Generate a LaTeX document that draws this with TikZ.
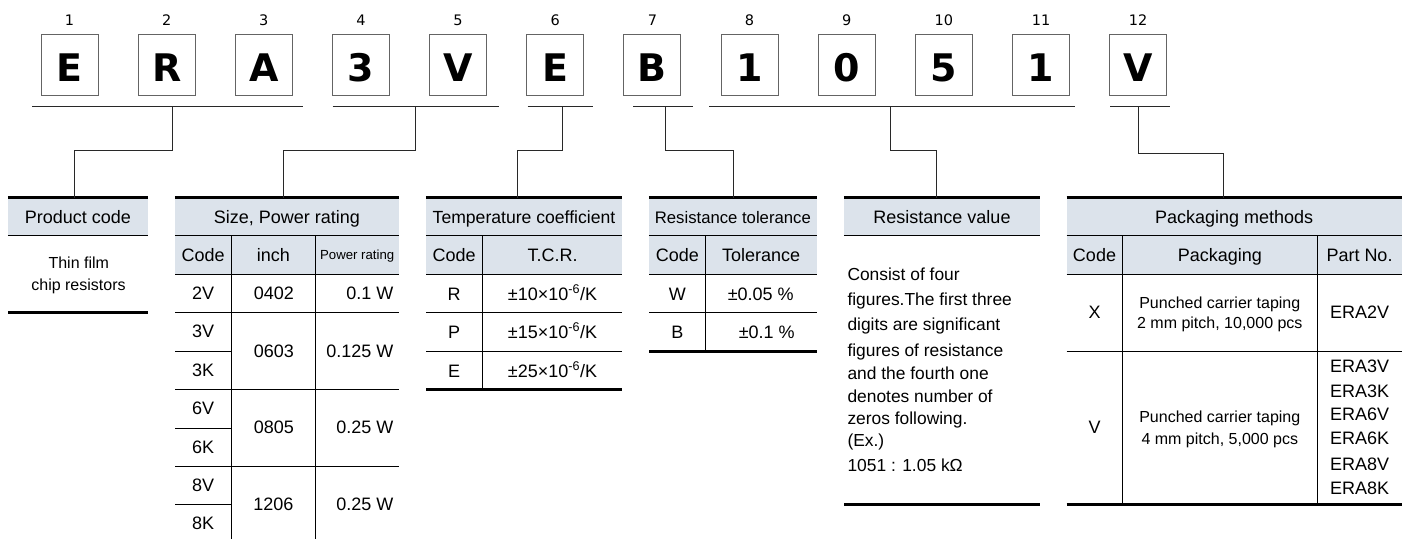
\documentclass[tikz,border=0pt]{standalone}
\usepackage{fontspec}
\setmainfont{Liberation Sans}
\newfontfamily\dvfont{DejaVu Sans}
\definecolor{hdr}{RGB}{220,227,235}
\definecolor{boxgray}{RGB}{100,100,100}
\definecolor{connc}{RGB}{40,40,40}
\tikzset{
  digitbox/.style={draw=boxgray, line width=1pt, minimum width=57pt, minimum height=60.7pt,
    inner sep=0pt, text height=32.7pt, text depth=0pt, font=\dvfont\bfseries\fontsize{38}{38}\selectfont},
  poslabel/.style={inner sep=0pt, font=\dvfont\fontsize{14.5}{15}\selectfont},
  grpline/.style={draw=connc, line width=1pt},
  connline/.style={draw=connc, line width=1pt},
  thickrule/.style={line width=3pt},
  thinrule/.style={line width=1pt},
  cell/.style={inner sep=0pt, text height=13pt, text depth=0pt, font=\fontsize{18}{21}\selectfont},
  smallcell/.style={inner sep=0pt, text height=11.5pt, text depth=0pt, font=\fontsize{16}{19}\selectfont},
  tinycell/.style={inner sep=0pt, text height=9.5pt, text depth=0pt, font=\fontsize{13.2}{15}\selectfont},
  textline/.style={inner sep=0pt, anchor=west, text height=12.5pt, text depth=0pt, font=\fontsize{17.4}{20}\selectfont},
  hdrcell/.style={cell, fill=hdr, minimum height=37.3pt},
}
\begin{document}
\begin{tikzpicture}[x=1pt,y=-1pt]
\useasboundingbox (0,0) rectangle (1408,539);

% ---------- code boxes ----------
\foreach \i/\c in {1/E,2/R,3/A,4/3,5/V,6/E,7/B,8/1,9/0,10/5,11/1,12/V}{
  \node[digitbox] (b\i) at ({69.5+97.15*(\i-1)},64.65) {\c};
  \node[poslabel] (n\i) at ({69.5+97.15*(\i-1)},20.6) {\i};
}

% ---------- table headers (named nodes) ----------
\node[hdrcell, minimum width=139.7pt] (h1) at (77.85,216.65) {Product code};
\node[hdrcell, minimum width=224pt] (h2) at (287,216.65) {Size, Power rating};
\node[hdrcell, minimum width=196pt, font=\fontsize{17.6}{20}\selectfont] (h3) at (524,216.65) {Temperature coefficient};
\node[hdrcell, minimum width=167.7pt, font=\fontsize{16.7}{20}\selectfont] (h4) at (732.85,216.65) {Resistance tolerance};
\node[hdrcell, minimum width=196pt] (h5) at (942,216.65) {Resistance value};
\node[hdrcell, minimum width=335pt] (h6) at (1234.2,216.65) {Packaging methods};

\foreach \k in {1,...,6}{
  \draw[thickrule] (h\k.north west) -- (h\k.north east);
  \draw[thinrule] (h\k.south west) -- (h\k.south east);
}

% ---------- group lines and connectors ----------
\coordinate (g1a) at (32.3,106);   \coordinate (g1b) at (303.3,106);
\coordinate (g2a) at (332.7,106);  \coordinate (g2b) at (499.3,106);
\coordinate (g3a) at (527.7,106);  \coordinate (g3b) at (593,106);
\coordinate (g4a) at (633.3,106);  \coordinate (g4b) at (692.7,106);
\coordinate (g5a) at (709.3,106);  \coordinate (g5b) at (1074.7,106);
\coordinate (g6a) at (1110.3,106); \coordinate (g6b) at (1170,106);
\foreach \k in {1,...,6}{ \draw[grpline] (g\k a) -- (g\k b); }

\coordinate (s1) at (172.3,106);  \coordinate (e1) at (74.7,150.7);
\coordinate (s2) at (415,106);    \coordinate (e2) at (283,150.7);
\coordinate (s3) at (562.7,106);  \coordinate (e3) at (517.3,150.7);
\coordinate (s4) at (665.7,106);  \coordinate (e4) at (733.7,150.7);
\coordinate (s5) at (890.3,106);  \coordinate (e5) at (936,150.7);
\coordinate (s6) at (1138.7,106); \coordinate (e6) at (1223.7,153.3);
\foreach \k in {1,...,6}{ \draw[connline] (s\k) |- (e\k) -- (e\k |- h\k.north); }

% ---------- table 1 : product code ----------
\node[smallcell] (t1a) at (78.8,262.7) {Thin film};
\node[smallcell] (t1b) at (78.5,284.3) {chip resistors};
\draw[thickrule] (8,312.3) -- (147.7,312.3);

% ---------- table 2 : size, power rating ----------
\fill[hdr] (175,235.8) rectangle (399,274);
\draw[thinrule] (175,274) -- (399,274);
\foreach \yy in {312.3,389.7,466.3}{ \draw[thinrule] (175,\yy) -- (399,\yy); }
\foreach \yy in {351.7,428.3,504.3}{ \draw[thinrule] (175,\yy) -- (231.3,\yy); }
\draw[thinrule] (231.3,235.3) -- (231.3,539);
\draw[thinrule] (315.3,235.3) -- (315.3,539);
\node[cell] (c2a) at (203.2,254.5) {Code};
\node[cell] (c2b) at (273.3,254.5) {inch};
\node[tinycell] (c2c) at (357.2,254.5) {Power rating};
\node[cell] (r2a) at (203.2,292.7) {2V};
\node[cell] (r2b) at (203.2,331) {3V};
\node[cell] (r2c) at (203.2,370) {3K};
\node[cell] (r2d) at (203.2,408.3) {6V};
\node[cell] (r2e) at (203.2,446.7) {6K};
\node[cell] (r2f) at (203.2,485) {8V};
\node[cell] (r2g) at (203.2,523.3) {8K};
\node[cell] (i2a) at (273.8,292.7) {0402};
\node[cell] (i2b) at (273.8,350.5) {0603};
\node[cell] (i2c) at (273.8,427) {0805};
\node[cell] (i2d) at (273.3,503.5) {1206};
\node[cell, anchor=east] (w2a) at (393.5,292.7) {0.1 W};
\node[cell, anchor=east] (w2b) at (393.5,350.5) {0.125 W};
\node[cell, anchor=east] (w2c) at (393.5,427) {0.25 W};
\node[cell, anchor=east] (w2d) at (393.5,503.5) {0.25 W};

% ---------- table 3 : temperature coefficient ----------
\fill[hdr] (426,235.8) rectangle (622,274);
\draw[thinrule] (426,274) -- (622,274);
\draw[thinrule] (426,312.3) -- (622,312.3);
\draw[thinrule] (426,351.7) -- (622,351.7);
\draw[thinrule] (482.3,235.3) -- (482.3,389.7);
\draw[thickrule] (426,389.7) -- (622,389.7);
\node[cell] (c3a) at (454.2,254.5) {Code};
\node[cell] (c3b) at (552.5,254.5) {T.C.R.};
\node[cell] (r3a) at (454.2,293.5) {R};
\node[cell] (r3b) at (454.2,331.7) {P};
\node[cell] (r3c) at (454.2,370.5) {E};
\node[cell] (v3a) at (552.5,293.5) {±10×10\textsuperscript{-6}/K};
\node[cell] (v3b) at (552.5,331.7) {±15×10\textsuperscript{-6}/K};
\node[cell] (v3c) at (552.5,370.5) {±25×10\textsuperscript{-6}/K};

% ---------- table 4 : resistance tolerance ----------
\fill[hdr] (649,235.8) rectangle (816.7,274);
\draw[thinrule] (649,274) -- (816.7,274);
\draw[thinrule] (649,312.3) -- (816.7,312.3);
\draw[thinrule] (705.7,235.3) -- (705.7,351.7);
\draw[thickrule] (649,351.7) -- (816.7,351.7);
\node[cell] (c4a) at (677.4,254.5) {Code};
\node[cell] (c4b) at (761.2,254.5) {Tolerance};
\node[cell] (r4a) at (677.4,293.5) {W};
\node[cell] (r4b) at (677.4,331.7) {B};
\node[cell] (v4a) at (760.7,293.5) {±0.05 \%};
\node[cell] (v4b) at (766.7,331.7) {±0.1 \%};

% ---------- table 5 : resistance value ----------
\node[textline] (l5a) at (847.3,274.3) {Consist of four};
\node[textline] (l5b) at (847.3,299.3) {figures.The first three};
\node[textline] (l5c) at (847.3,324.3) {digits are significant};
\node[textline] (l5d) at (847.3,350) {figures of resistance};
\node[textline] (l5e) at (847.3,373.3) {and the fourth one};
\node[textline] (l5f) at (847.3,396) {denotes number of};
\node[textline] (l5g) at (847.3,418.3) {zeros following.};
\node[textline] (l5h) at (847.3,440.7) {(Ex.)};
\node[textline] (l5i) at (847.3,465) {1051 : 1.05 kΩ};
\draw[thickrule] (844,504) -- (1040,504);

% ---------- table 6 : packaging methods ----------
\fill[hdr] (1066.7,235.8) rectangle (1401.7,274);
\draw[thinrule] (1066.7,274) -- (1401.7,274);
\draw[thinrule] (1066.7,351.7) -- (1401.7,351.7);
\draw[thinrule] (1122.3,235.3) -- (1122.3,504);
\draw[thinrule] (1317.3,235.3) -- (1317.3,504);
\draw[thickrule] (1066.7,504) -- (1401.7,504);
\node[cell] (c6a) at (1094.5,254.5) {Code};
\node[cell] (c6b) at (1219.8,254.5) {Packaging};
\node[cell] (c6c) at (1359.5,254.5) {Part No.};
\node[cell] (r6a) at (1094.5,312.3) {X};
\node[smallcell] (p6a) at (1219.8,302.3) {Punched carrier taping};
\node[smallcell] (p6b) at (1219.8,322.8) {2 mm pitch, 10,000 pcs};
\node[cell] (q6a) at (1359.5,312.3) {ERA2V};
\node[cell] (r6b) at (1094.5,427.3) {V};
\node[smallcell] (p6c) at (1219.8,416.7) {Punched carrier taping};
\node[smallcell] (p6d) at (1219.8,438.3) {4 mm pitch, 5,000 pcs};
\node[cell] (q6b) at (1359.5,365.7) {ERA3V};
\node[cell] (q6c) at (1359.5,390.7) {ERA3K};
\node[cell] (q6d) at (1359.5,414.3) {ERA6V};
\node[cell] (q6e) at (1359.5,438.3) {ERA6K};
\node[cell] (q6f) at (1359.5,464) {ERA8V};
\node[cell] (q6g) at (1359.5,487.7) {ERA8K};
\end{tikzpicture}
\end{document}
